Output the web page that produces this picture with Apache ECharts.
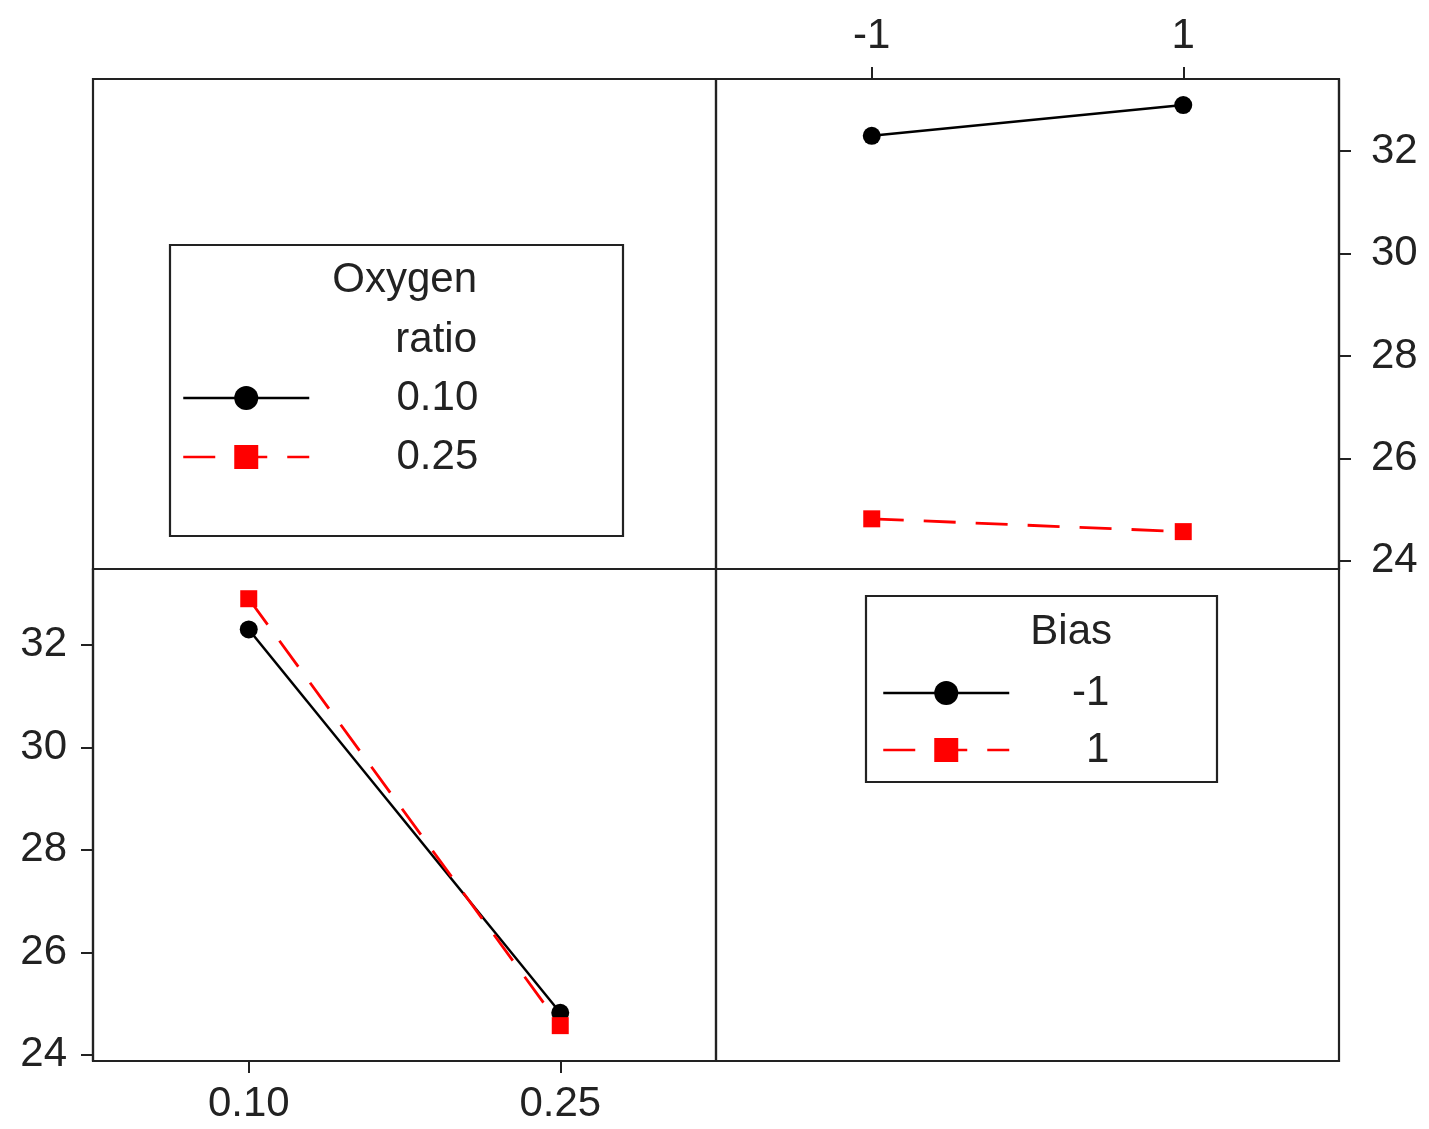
<!DOCTYPE html>
<html>
<head>
<meta charset="utf-8">
<script src="https://cdn.jsdelivr.net/npm/echarts@6/dist/echarts.min.js"></script>
<style>html,body{margin:0;padding:0;background:#fff}#c{width:1429px;height:1129px}</style>
</head>
<body>
<div id="c"></div>
<script>
// categories
const oxygenLevels = ['0.10', '0.25'];
const biasLevels = ['-1', '1'];
// tick labels
const yTicks = [24, 26, 28, 30, 32];
// top-right panel: mean vs Bias, one line per Oxygen ratio
const meanOx010 = [32.30, 32.90];
const meanOx025 = [24.82, 24.57];
// bottom-left panel: mean vs Oxygen ratio, one line per Bias
const meanBiasM1 = [32.30, 24.82];
const meanBiasP1 = [32.90, 24.57];

const FONT = 'Liberation Sans';
const TXT = '#222';
const FS = 42;

const chart = echarts.init(document.getElementById('c'), null, {renderer: 'canvas'});

const border = {show: true, borderColor: '#222', borderWidth: 2.2, backgroundColor: 'transparent'};
const hiddenAxis = {show: false, type: 'value', min: 0, max: 1};
const axisLbl = (margin) => ({fontFamily: FONT, fontSize: FS, color: TXT, margin: margin});

const blackLine = {color: '#000', width: 2.5, type: 'solid'};
const redLine = {color: '#ff0000', width: 2.8, type: [32, 20]};

const option = {
  backgroundColor: '#fff',
  animation: false,
  grid: [
    Object.assign({left: 93, top: 79, width: 623, height: 490}, border),
    Object.assign({left: 716, top: 79, width: 623, height: 490}, border),
    Object.assign({left: 93, top: 569, width: 623, height: 492}, border),
    Object.assign({left: 716, top: 569, width: 623, height: 492}, border)
  ],
  xAxis: [
    Object.assign({gridIndex: 0}, hiddenAxis),
    {
      gridIndex: 1, type: 'category', data: biasLevels, position: 'top', boundaryGap: true,
      axisLine: {show: true, lineStyle: {color: '#222', width: 2.2}},
      axisTick: {show: true, alignWithLabel: true, length: 12, lineStyle: {color: '#222', width: 2}},
      axisLabel: axisLbl(22),
      splitLine: {show: false}
    },
    {
      gridIndex: 2, type: 'category', data: oxygenLevels, position: 'bottom', boundaryGap: true,
      axisLine: {show: true, lineStyle: {color: '#222', width: 2.2}},
      axisTick: {show: true, alignWithLabel: true, length: 12, lineStyle: {color: '#222', width: 2}},
      axisLabel: axisLbl(22),
      splitLine: {show: false}
    },
    Object.assign({gridIndex: 3}, hiddenAxis)
  ],
  yAxis: [
    Object.assign({gridIndex: 0}, hiddenAxis),
    {
      gridIndex: 1, type: 'value', position: 'right', min: 23.84, max: 33.41,
      axisLine: {show: true, lineStyle: {color: '#222', width: 2.2}},
      axisTick: {show: true, length: 12, customValues: yTicks, lineStyle: {color: '#222', width: 2}},
      axisLabel: Object.assign({customValues: yTicks}, axisLbl(32)),
      splitLine: {show: false}
    },
    {
      gridIndex: 2, type: 'value', position: 'left', min: 23.88, max: 33.48,
      axisLine: {show: true, lineStyle: {color: '#222', width: 2.2}},
      axisTick: {show: true, length: 12, customValues: yTicks, lineStyle: {color: '#222', width: 2}},
      axisLabel: Object.assign({customValues: yTicks}, axisLbl(26)),
      splitLine: {show: false}
    },
    Object.assign({gridIndex: 3}, hiddenAxis)
  ],
  legend: [
    {
      data: ['0.10', '0.25'], orient: 'vertical', left: 182, top: 377, padding: 0,
      itemWidth: 126, itemHeight: 30, itemGap: 17, selectedMode: false,
      lineStyle: {width: 2.5},
      formatter: n => '{t|' + n + '}',
      textStyle: {rich: {t: {width: 164, height: 42, align: 'right', fontFamily: FONT, fontSize: FS, color: TXT}}}
    },
    {
      data: ['-1', '1'], orient: 'vertical', left: 882, top: 672, padding: 0,
      itemWidth: 126, itemHeight: 30, itemGap: 15, selectedMode: false,
      lineStyle: {width: 2.5},
      formatter: n => '{t|' + n + '}',
      textStyle: {rich: {t: {width: 95, height: 42, align: 'right', fontFamily: FONT, fontSize: FS, color: TXT}}}
    }
  ],
  graphic: [
    {type: 'rect', shape: {x: 170, y: 245, width: 453, height: 291}, style: {fill: 'none', stroke: '#222', lineWidth: 2.2}},
    {type: 'text', x: 477, y: 280, style: {text: 'Oxygen', align: 'right', verticalAlign: 'middle', font: FS + 'px "' + FONT + '"', fill: TXT}},
    {type: 'text', x: 477, y: 340, style: {text: 'ratio', align: 'right', verticalAlign: 'middle', font: FS + 'px "' + FONT + '"', fill: TXT}},
    {type: 'rect', shape: {x: 866, y: 596, width: 351, height: 186}, style: {fill: 'none', stroke: '#222', lineWidth: 2.2}},
    {type: 'text', x: 1112, y: 632, style: {text: 'Bias', align: 'right', verticalAlign: 'middle', font: FS + 'px "' + FONT + '"', fill: TXT}}
  ],
  series: [
    {name: '0.10', type: 'line', xAxisIndex: 1, yAxisIndex: 1, data: meanOx010,
     symbol: 'circle', symbolSize: 18, itemStyle: {color: '#000'}, lineStyle: blackLine},
    {name: '0.25', type: 'line', xAxisIndex: 1, yAxisIndex: 1, data: meanOx025,
     symbol: 'rect', symbolSize: 17, itemStyle: {color: '#ff0000'}, lineStyle: redLine},
    {name: '-1', type: 'line', xAxisIndex: 2, yAxisIndex: 2, data: meanBiasM1,
     symbol: 'circle', symbolSize: 18, itemStyle: {color: '#000'}, lineStyle: blackLine},
    {name: '1', type: 'line', xAxisIndex: 2, yAxisIndex: 2, data: meanBiasP1,
     symbol: 'rect', symbolSize: 17, itemStyle: {color: '#ff0000'}, lineStyle: redLine}
  ]
};
chart.setOption(option);
</script>
</body>
</html>
